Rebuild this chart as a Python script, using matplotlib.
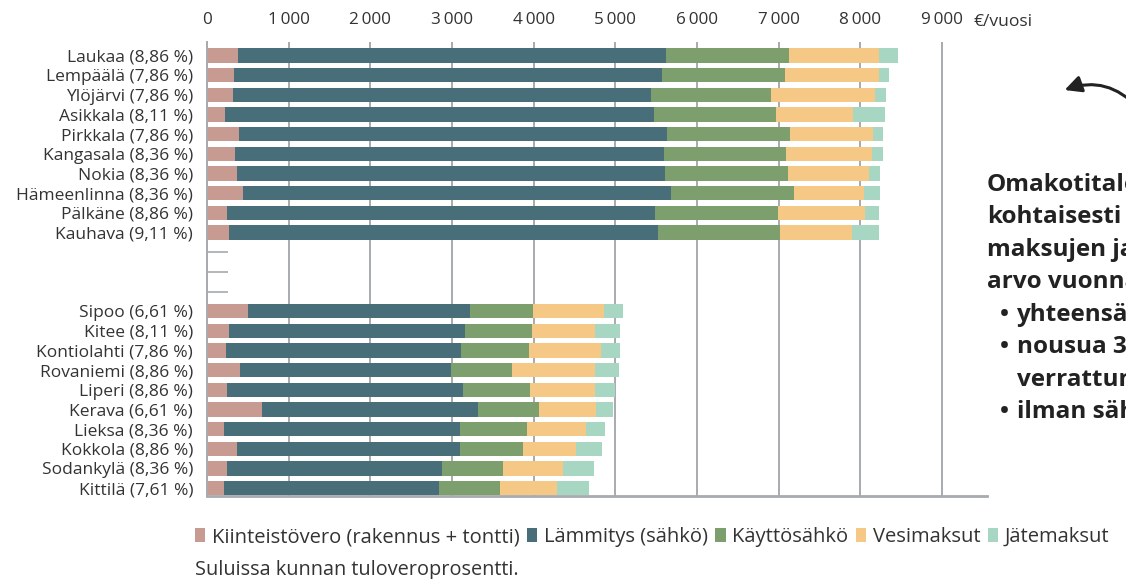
import matplotlib
matplotlib.use("Agg")
import matplotlib.pyplot as plt
from matplotlib.ticker import FixedLocator
import numpy as np

plt.rcParams['font.family'] = ['Open Sans', 'DejaVu Sans']

# ---- data ----
municipalities = [
    "Laukaa (8,86 %)", "Lempäälä (7,86 %)", "Ylöjärvi (7,86 %)", "Asikkala (8,11 %)",
    "Pirkkala (7,86 %)", "Kangasala (8,36 %)", "Nokia (8,36 %)", "Hämeenlinna (8,36 %)",
    "Pälkäne (8,86 %)", "Kauhava (9,11 %)",
    "", "", "",
    "Sipoo (6,61 %)", "Kitee (8,11 %)", "Kontiolahti (7,86 %)", "Rovaniemi (8,86 %)",
    "Liperi (8,86 %)", "Kerava (6,61 %)", "Lieksa (8,36 %)", "Kokkola (8,86 %)",
    "Sodankylä (8,36 %)", "Kittilä (7,61 %)",
]
kiinteistovero = [376, 327, 315, 217, 388, 339, 364, 437, 241, 266,
                  0, 0, 0,
                  498, 266, 229, 400, 241, 670, 204, 364, 241, 204]
lammitys = [5242, 5238, 5120, 5251, 5243, 5255, 5242, 5243, 5243, 5254,
            0, 0, 0,
            2717, 2888, 2876, 2583, 2889, 2643, 2889, 2729, 2632, 2632]
kayttosahko = [1506, 1510, 1469, 1497, 1501, 1494, 1506, 1505, 1505, 1494,
               0, 0, 0,
               775, 820, 836, 746, 820, 751, 820, 775, 746, 750]
vesimaksut = [1101, 1150, 1273, 950, 1020, 1048, 991, 853, 1073, 889,
              0, 0, 0,
              865, 775, 878, 1020, 799, 693, 722, 645, 738, 694]
jatemaksut = [233, 131, 142, 392, 123, 135, 135, 208, 160, 319,
              0, 0, 0,
              233, 302, 232, 290, 241, 209, 233, 318, 376, 392]

series_names = ["Kiinteistövero (rakennus + tontti)", "Lämmitys (sähkö)",
                "Käyttösähkö", "Vesimaksut", "Jätemaksut"]
series_values = [kiinteistovero, lammitys, kayttosahko, vesimaksut, jatemaksut]
colors = ["#c79a92", "#476e79", "#7d9e6d", "#f5c886", "#a7d7c2"]
x_ticks = [0, 1000, 2000, 3000, 4000, 5000, 6000, 7000, 8000, 9000]
x_ticklabels = ["0", "1\u2009000", "2\u2009000", "3\u2009000", "4\u2009000",
                "5\u2009000", "6\u2009000", "7\u2009000", "8\u2009000", "9\u2009000"]

text_color = "#333333"
grid_color = "#a7aaae"

W, H = 1126, 579
fig = plt.figure(figsize=(W / 100, H / 100), dpi=100)
ax = fig.add_axes([207 / W, 1 - 496 / H, (987 - 207) / W, (496 - 42) / H])

y = np.arange(len(municipalities))
left = np.zeros(len(municipalities))
handles = []
for name, vals, c in zip(series_names, series_values, colors):
    vals = np.array(vals, dtype=float)
    b = ax.barh(y, vals, left=left, height=0.73, color=c, label=name, linewidth=0)
    handles.append(b)
    left += vals

ax.set_xlim(0, 9550)
ax.set_ylim(22.4, -0.69)

# x axis on top
ax.xaxis.tick_top()
ax.set_xticks(x_ticks)
ax.set_xticklabels(x_ticklabels, fontsize=12.3, color=text_color)
ax.tick_params(axis='x', length=0, pad=10)
ax.xaxis.grid(True, color=grid_color, linewidth=1.4)
ax.set_axisbelow(True)

# y ticks
labeled = [i for i, m in enumerate(municipalities) if m]
empty = [i for i, m in enumerate(municipalities) if not m]
ax.set_yticks(labeled)
ax.set_yticklabels([municipalities[i] for i in labeled], fontsize=12.5, color=text_color)
ax.tick_params(axis='y', length=0, pad=10)
ax.yaxis.set_minor_locator(FixedLocator(empty))
ax.tick_params(axis='y', which='minor', direction='in', length=15, width=1.2,
               color=grid_color)

for s in ["top", "right"]:
    ax.spines[s].set_visible(False)
ax.spines["left"].set_color(grid_color)
ax.spines["left"].set_linewidth(1.4)
ax.spines["bottom"].set_color(grid_color)
ax.spines["bottom"].set_linewidth(2)

fig.text(974 / W, 1 - 22 / H, "€/vuosi", fontsize=12.6, color=text_color,
         ha="left", va="center")

# legend
fig.legend(handles=handles, labels=series_names, loc="center left",
           bbox_to_anchor=(195 / W, 1 - 537 / H), ncol=5, frameon=False,
           fontsize=14.5, handlelength=0.5, handleheight=0.75, handletextpad=0.33,
           columnspacing=0.38, borderpad=0, borderaxespad=0,
           labelcolor=text_color)
fig.text(195 / W, 1 - 570 / H, "Suluissa kunnan tuloveroprosentti.", fontsize=14.3,
         color=text_color, ha="left", va="center")

# side text (cut at figure edge, as in the reference)
fs_side = 17.5
side_lines = ["Omakotitalon", "kohtaisesti", "maksujen ja", "arvo vuonna"]
ys = [185, 217, 250, 282]
for t, yy in zip(side_lines, ys):
    fig.text(987 / W, 1 - yy / H, t, fontsize=fs_side, fontweight="bold",
             color="#222222", ha="left", va="center")
bullets = [("•", "yhteensä"), ("•", "nousua 3"), ("", "verrattuna"), ("•", "ilman sähkö")]
ys2 = [315, 347, 380, 412]
for (bul, t), yy in zip(bullets, ys2):
    if bul:
        fig.text(1000 / W, 1 - yy / H, bul, fontsize=fs_side, fontweight="bold",
                 color="#222222", ha="left", va="center")
    fig.text(1017 / W, 1 - yy / H, t, fontsize=fs_side, fontweight="bold",
             color="#222222", ha="left", va="center")

# curved arrow
fig.patches.append(matplotlib.patches.FancyArrowPatch(
    (1140 / W, 1 - 110 / H), (1062 / W, 1 - 91 / H), transform=fig.transFigure,
    connectionstyle="arc3,rad=0.35", arrowstyle="-|>,head_length=10,head_width=5",
    color="#222222", linewidth=2.2, mutation_scale=1))

fig.savefig("out.png", dpi=100)
